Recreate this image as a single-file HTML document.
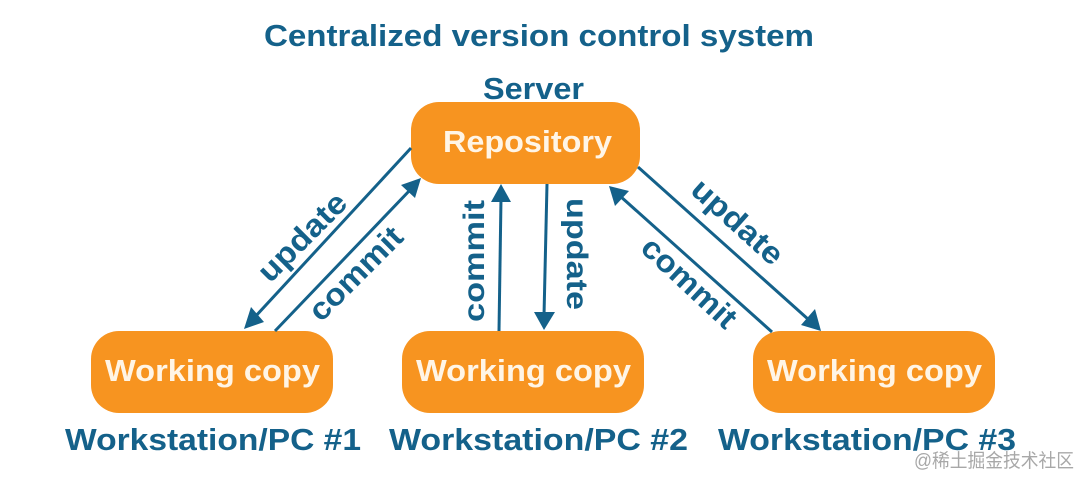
<!DOCTYPE html>
<html><head><meta charset="utf-8"><style>
html,body{margin:0;padding:0;background:#fff}
svg{display:block}
text{font-family:"Liberation Sans",sans-serif;font-weight:bold;fill:#14618a}
.w{fill:#fff5e6}
</style></head><body>
<svg width="1080" height="477" viewBox="0 0 1080 477" xmlns="http://www.w3.org/2000/svg">
<rect width="1080" height="477" fill="#fff"/>
<text x="264" y="46" font-size="31" textLength="550" lengthAdjust="spacingAndGlyphs">Centralized version control system</text>
<text x="483" y="99" font-size="31" textLength="101" lengthAdjust="spacingAndGlyphs">Server</text>
<g fill="#f79420">
<rect x="411" y="102" width="229" height="82" rx="28"/>
<rect x="91" y="331" width="242" height="82" rx="28"/>
<rect x="402" y="331" width="242" height="82" rx="28"/>
<rect x="753" y="331" width="242" height="82" rx="28"/>
</g>
<text class="w" x="443" y="152" font-size="31" textLength="169" lengthAdjust="spacingAndGlyphs">Repository</text>
<text class="w" x="105" y="381" font-size="31" textLength="215" lengthAdjust="spacingAndGlyphs">Working copy</text>
<text class="w" x="416" y="381" font-size="31" textLength="215" lengthAdjust="spacingAndGlyphs">Working copy</text>
<text class="w" x="767" y="381" font-size="31" textLength="215" lengthAdjust="spacingAndGlyphs">Working copy</text>
<text x="65" y="450" font-size="31" textLength="296" lengthAdjust="spacingAndGlyphs">Workstation/PC #1</text>
<text x="389" y="450" font-size="31" textLength="299" lengthAdjust="spacingAndGlyphs">Workstation/PC #2</text>
<text x="718" y="450" font-size="31" textLength="298" lengthAdjust="spacingAndGlyphs">Workstation/PC #3</text>
<g stroke="#14618a" stroke-width="3" fill="none">
<line x1="411" y1="148" x2="254" y2="318"/>
<line x1="275" y1="331" x2="411" y2="189"/>
<line x1="499" y1="331" x2="501" y2="198"/>
<line x1="547" y1="184" x2="544" y2="316"/>
<line x1="772" y1="332" x2="620" y2="196"/>
<line x1="638" y1="167" x2="809" y2="320"/>
</g>
<g fill="#14618a">
<polygon points="244,329 251,307 264,322"/>
<polygon points="421,178 401,185 415,198"/>
<polygon points="501,184 491,202 511,202"/>
<polygon points="544,330 534,312 555,312"/>
<polygon points="609,186 615,206 629,191"/>
<polygon points="821,331 801,325 815,309"/>
</g>
<text transform="translate(270,284) rotate(-45)" font-size="31" textLength="112" lengthAdjust="spacingAndGlyphs">update</text>
<text transform="translate(321,323) rotate(-45)" font-size="31" textLength="119" lengthAdjust="spacingAndGlyphs">commit</text>
<text transform="translate(484,322) rotate(-90)" font-size="30" textLength="122" lengthAdjust="spacingAndGlyphs">commit</text>
<text transform="translate(567,198) rotate(90)" font-size="30" textLength="112" lengthAdjust="spacingAndGlyphs">update</text>
<text transform="translate(689,192) rotate(42)" font-size="31" textLength="112" lengthAdjust="spacingAndGlyphs">update</text>
<text transform="translate(639,250) rotate(43)" font-size="31" textLength="118" lengthAdjust="spacingAndGlyphs">commit</text>
<text x="914" y="467" font-size="19" textLength="160" lengthAdjust="spacingAndGlyphs" style="font-family:'Liberation Sans','Noto Sans CJK SC',sans-serif;font-weight:normal;fill:#a8a8a8">@稀土掘金技术社区</text>
</svg>
</body></html>
